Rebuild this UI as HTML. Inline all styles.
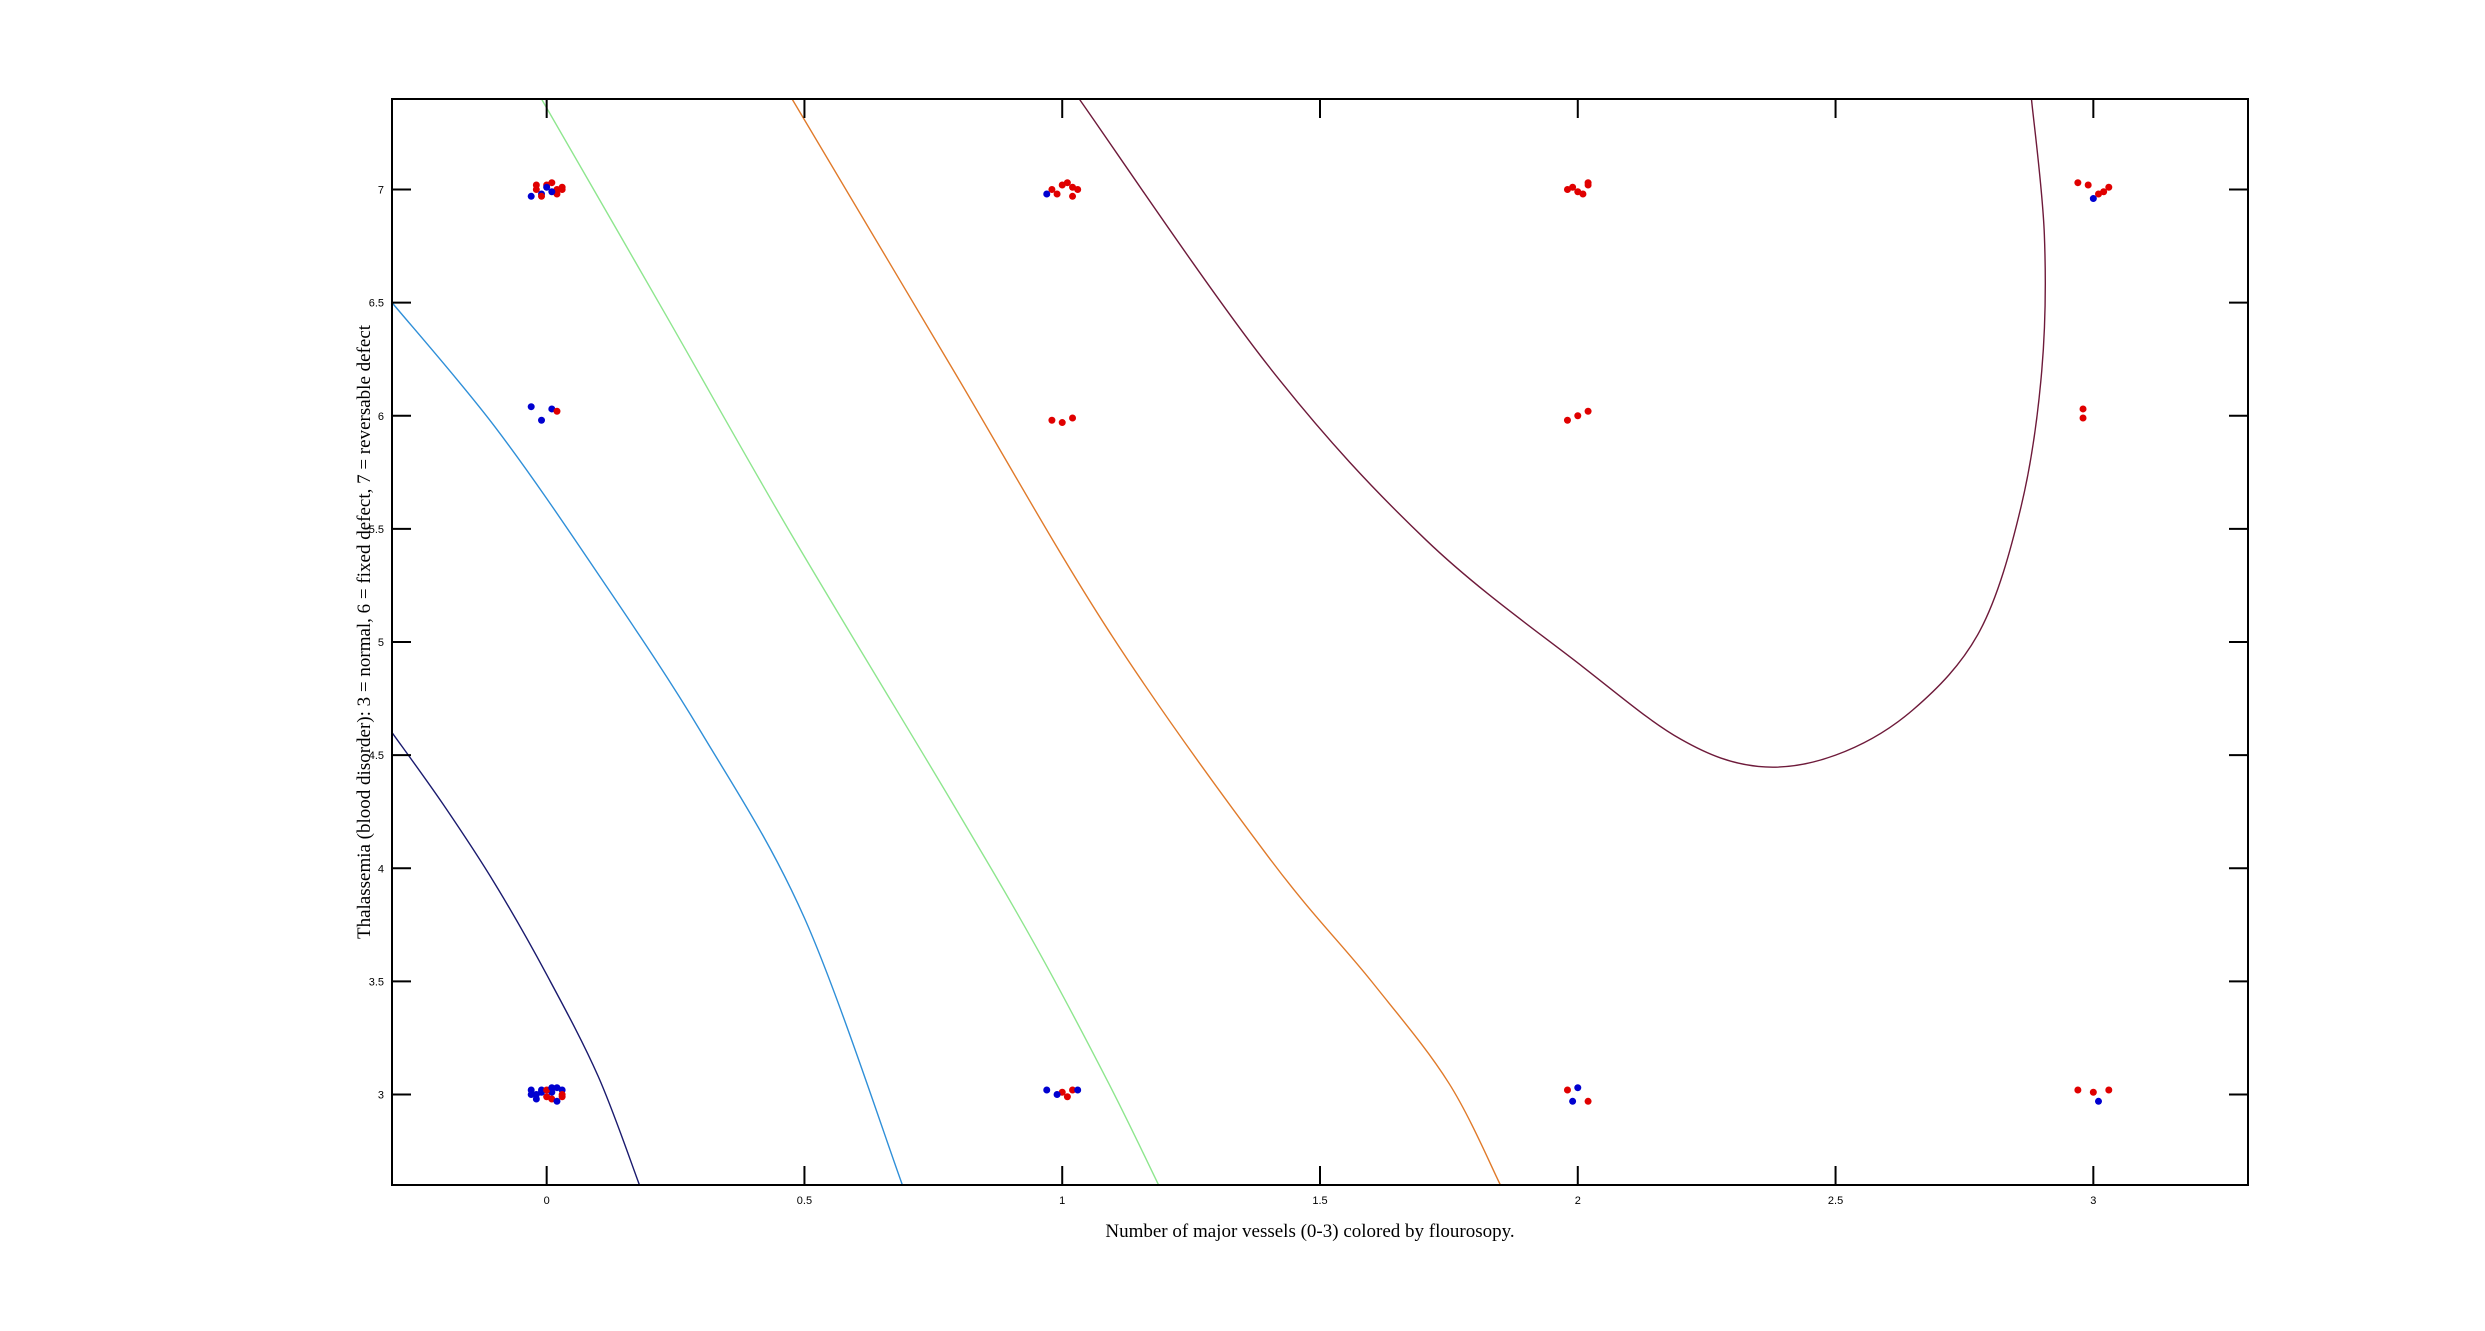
<!DOCTYPE html>
<html><head><meta charset="utf-8"><style>body{margin:0;background:#fff}svg{display:block}</style></head>
<body>
<svg id="chart" width="2485" height="1331" xmlns="http://www.w3.org/2000/svg"></svg>
<script>
const xTicks=[0,0.5,1,1.5,2,2.5,3];
const xTickLabels=["0","0.5","1","1.5","2","2.5","3"];
const yTicks=[3,3.5,4,4.5,5,5.5,6,6.5,7];
const yTickLabels=["3","3.5","4","4.5","5","5.5","6","6.5","7"];
const contourNames=["contour-navy","contour-blue","contour-green","contour-orange","contour-maroon"];
const contourColors=["#1a1a6e","#2f8fd8","#8ee68e","#e07a2a","#6e1a3a"];
const contourNavy=[[-0.3,4.6],[-0.2,4.28],[-0.1,3.93],[0,3.53],[0.1,3.08],[0.18,2.6]];
const contourBlue=[[-0.3,6.5],[-0.1,5.95],[0.1,5.3],[0.3,4.6],[0.5,3.78],[0.69,2.6]];
const contourGreen=[[-0.01,7.4],[0.23,6.45],[0.476,5.47],[0.784,4.3],[0.95,3.65],[1.09,3.05],[1.187,2.6]];
const contourOrange=[[0.476,7.4],[0.784,6.22],[1.09,5.05],[1.4,4.05],[1.6,3.5],[1.75,3.05],[1.85,2.6]];
const contourMaroon=[[1.033,7.4],[1.4,6.22],[1.706,5.45],[2.01,4.89],[2.2,4.57],[2.35,4.45],[2.5,4.5],[2.65,4.7],[2.78,5.05],[2.86,5.6],[2.9,6.2],[2.905,6.8],[2.88,7.4]];
const ptsX=[-0.02,0,0.02,-0.01,0.01,0.03,-0.03,0.02,0,-0.02,0.01,0.03,-0.01, -0.03,0.01,-0.01,0.02, -0.03,-0.01,0.01,0.03,-0.02,0,0.02,-0.03,0.01,0.03,-0.01,0.02,0,-0.02,0.01,0.03, 0.98,1,1.02,0.99,1.01,1.03,0.97,1.02, 1,1.02,0.98, 0.97,1,1.02,0.99,1.01,1.03, 1.98,2,2.02,2.01,1.99,2.02, 1.98,2,2.02, 1.98,2,2.02,1.99, 2.97,2.99,3.01,3.02,3.03,3.0, 2.98,2.98, 2.97,3,3.03,3.01];
const ptsY=[7,7.02,7,6.98,7.03,7.01,6.97,6.98,7.01,7.02,6.99,7,6.97, 6.04,6.03,5.98,6.02, 3,3.02,3.01,3.02,2.98,2.99,3.03,3.02,2.98,3,3.01,2.97,3.02,3.0,3.03,2.99, 7,7.02,7.01,6.98,7.03,7,6.98,6.97, 5.97,5.99,5.98, 3.02,3.01,3.02,3,2.99,3.02, 7,6.99,7.02,6.98,7.01,7.03, 5.98,6.0,6.02, 3.02,3.03,2.97,2.97, 7.03,7.02,6.98,6.99,7.01,6.96, 6.03,5.99, 3.02,3.01,3.02,2.97];
const ptsC=[1,1,1,0,1,1,0,1,0,1,0,1,1, 0,0,0,1, 0,0,0,0,0,1,0,0,1,1,0,0,1,0,0,1, 1,1,1,1,1,1,0,1, 1,1,1, 0,1,1,0,1,0, 1,1,1,1,1,1, 1,1,1, 1,0,1,0, 1,1,1,1,1,0, 1,1, 1,1,1,0];
const L=392,R=2248,T=99,B=1185,X0=-0.3,X1=3.3,Y0=2.6,Y1=7.4;
const sx=v=>L+(v-X0)/(X1-X0)*(R-L), sy=v=>B-(v-Y0)/(Y1-Y0)*(B-T);
const svg=document.getElementById('chart'),NS="http://www.w3.org/2000/svg";
function mk(t,a){const e=document.createElementNS(NS,t);for(const k in a)e.setAttribute(k,a[k]);svg.appendChild(e);return e;}
const clip=document.createElementNS(NS,'clipPath');clip.id='cp';const cr=document.createElementNS(NS,'rect');
cr.setAttribute('x',L);cr.setAttribute('y',T);cr.setAttribute('width',R-L);cr.setAttribute('height',B-T);clip.appendChild(cr);svg.appendChild(clip);
[contourNavy,contourBlue,contourGreen,contourOrange,contourMaroon].forEach((c,i)=>{
 const P=c.map(p=>[sx(p[0]),sy(p[1])]);
 let d='M'+P[0][0]+','+P[0][1];
 for(let j=1;j<P.length;j++){const p0=P[Math.max(j-2,0)],p1=P[j-1],p2=P[j],p3=P[Math.min(j+1,P.length-1)];
  const a=[p1[0]+(p2[0]-p0[0])/6,p1[1]+(p2[1]-p0[1])/6],b=[p2[0]-(p3[0]-p1[0])/6,p2[1]-(p3[1]-p1[1])/6];
  d+=' C'+a[0]+','+a[1]+' '+b[0]+','+b[1]+' '+p2[0]+','+p2[1];}
 const e=mk('path',{d:d,fill:'none',stroke:contourColors[i],'stroke-width':1.4,'clip-path':'url(#cp)'});
 
 
});
ptsX.forEach((x,i)=>{
 const e=mk('circle',{cx:sx(x),cy:sy(ptsY[i]),r:3.5,fill:ptsC[i]?'#e00000':'#0000d0'});
 
 
});
const box=mk('rect',{x:L,y:T,width:R-L,height:B-T,fill:'none',stroke:'#000','stroke-width':2});


xTicks.forEach((v,i)=>{const x=sx(v);
 mk('line',{x1:x,y1:B,x2:x,y2:B-19,stroke:'#000','stroke-width':2});
 mk('line',{x1:x,y1:T,x2:x,y2:T+19,stroke:'#000','stroke-width':2});
 const t=mk('text',{x:x,y:B+19,'font-size':11,'text-anchor':'middle','font-family':'Liberation Sans, sans-serif'});t.textContent=xTickLabels[i];
 
 });
yTicks.forEach((v,i)=>{const y=sy(v);
 mk('line',{x1:L,y1:y,x2:L+19,y2:y,stroke:'#000','stroke-width':2});
 mk('line',{x1:R,y1:y,x2:R-19,y2:y,stroke:'#000','stroke-width':2});
 const t=mk('text',{x:L-8,y:y+4,'font-size':11,'text-anchor':'end','font-family':'Liberation Sans, sans-serif'});t.textContent=yTickLabels[i];
 
 });
const xl=mk('text',{x:(L+R)/2-10,y:1237,'font-size':19,'text-anchor':'middle','font-family':'Liberation Serif, serif'});
xl.textContent='Number of major vessels (0-3) colored by flourosopy.';


const yl=mk('text',{x:0,y:0,'font-size':19,'text-anchor':'middle','font-family':'Liberation Serif, serif',transform:'translate(370,632) rotate(-90)'});
yl.textContent='Thalassemia (blood disorder): 3 = normal, 6 = fixed defect, 7 = reversable defect';


</script>
</body></html>
